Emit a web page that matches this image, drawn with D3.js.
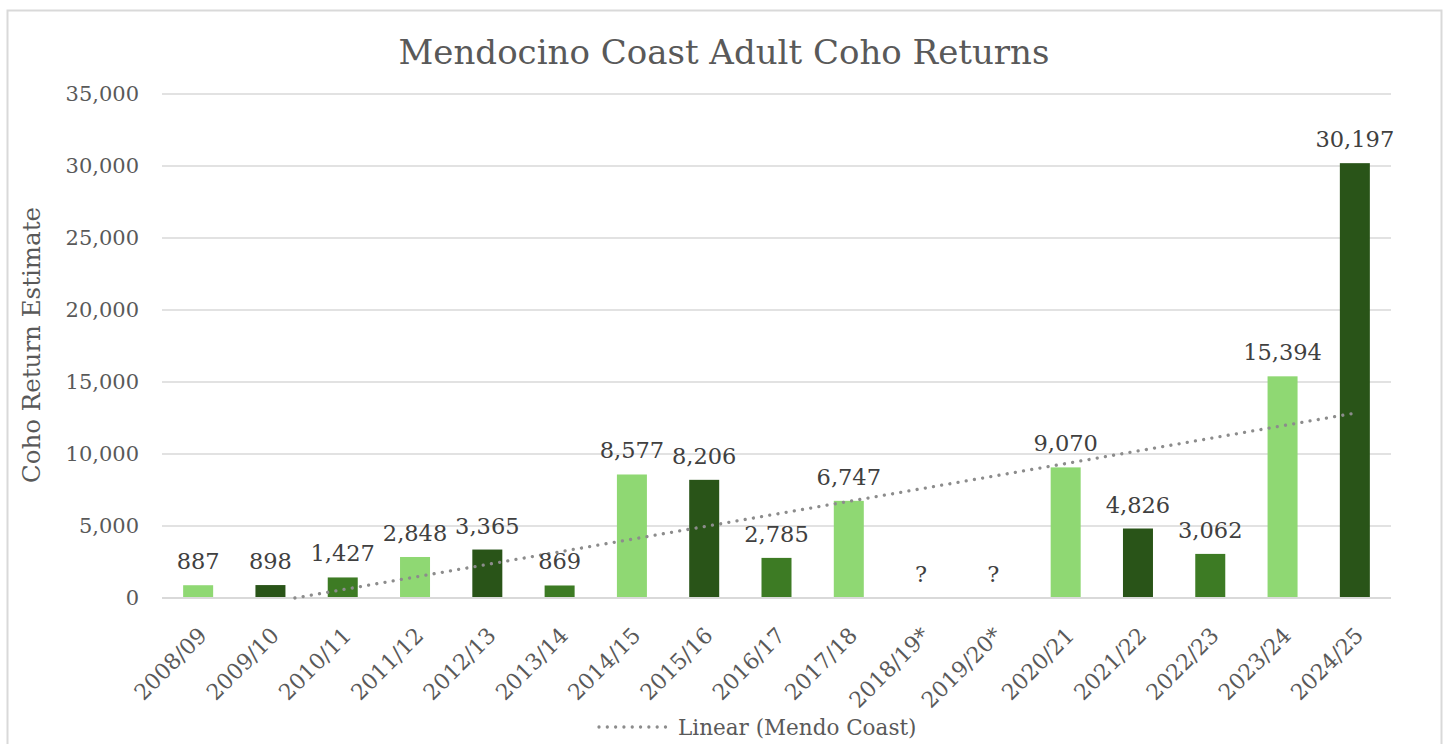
<!DOCTYPE html>
<html>
<head>
<meta charset="utf-8">
<script src="https://cdn.jsdelivr.net/npm/d3@7"></script>
<style>
  html, body { margin: 0; padding: 0; background: #fff; }
  text { font-family: "DejaVu Serif", "Liberation Serif", serif; }
</style>
</head>
<body>
<svg id="chart" width="1447" height="744"></svg>
<script>
const categories = ["2008/09","2009/10","2010/11","2011/12","2012/13","2013/14","2014/15","2015/16","2016/17","2017/18","2018/19*","2019/20*","2020/21","2021/22","2022/23","2023/24","2024/25"];
const values = [887, 898, 1427, 2848, 3365, 869, 8577, 8206, 2785, 6747, null, null, 9070, 4826, 3062, 15394, 30197];
const yTicks = [0, 5000, 10000, 15000, 20000, 25000, 30000, 35000];
const barColors = ["#8fd873", "#295418", "#3d7b24"];
const titleText = "Mendocino Coast Adult Coho Returns";
const yTitle = "Coho Return Estimate";
const legendLabel = "Linear (Mendo Coast)";

const svg = d3.select("#chart");
const margin = { left: 162, right: 1391, top: 94, bottom: 598 };

// chart border
svg.append("rect").attr("x", 7.5).attr("y", 10.5).attr("width", 1434).attr("height", 745)
  .attr("fill", "#fff").attr("stroke", "#d9d9d9").attr("stroke-width", 2);

const x = d3.scaleBand().domain(categories).range([margin.left, margin.right]).paddingInner(0.585).paddingOuter(0.2925);
const y = d3.scaleLinear().domain([0, 35000]).range([margin.bottom, margin.top]);

// gridlines
svg.append("g").selectAll("line").data(yTicks.filter(d => d > 0)).join("line")
  .attr("x1", margin.left).attr("x2", margin.right)
  .attr("y1", d => y(d)).attr("y2", d => y(d))
  .attr("stroke", "#d9d9d9").attr("stroke-width", 1.5);

// y axis labels
const yAxis = d3.axisLeft(y).tickValues(yTicks).tickFormat(d3.format(",")).tickSize(0).tickPadding(23);
const yg = svg.append("g").attr("transform", `translate(${margin.left},0)`).call(yAxis);
yg.select(".domain").remove();
yg.selectAll("text").attr("fill", "#595959").style("font-size", "21px").style("font-family", '"DejaVu Serif", serif');

// bars
svg.append("g").selectAll("rect").data(categories).join("rect")
  .attr("x", d => x(d)).attr("width", x.bandwidth())
  .attr("y", (d, i) => y(values[i] || 0))
  .attr("height", (d, i) => y(0) - y(values[i] || 0))
  .attr("fill", (d, i) => barColors[i % 3]);

// baseline
svg.append("line").attr("x1", margin.left).attr("x2", margin.right)
  .attr("y1", y(0)).attr("y2", y(0)).attr("stroke", "#d9d9d9").attr("stroke-width", 2);

// trendline: linear regression over category index (blanks counted as zero)
const pts = categories.map((c, i) => [i, values[i] || 0]);
const n = pts.length;
const mx = d3.mean(pts, p => p[0]), my = d3.mean(pts, p => p[1]);
const slope = d3.sum(pts, p => (p[0] - mx) * (p[1] - my)) / d3.sum(pts, p => (p[0] - mx) ** 2);
const intercept = my - slope * mx;
const cx = i => x(categories[i]) + x.bandwidth() / 2;
const i0 = (0 - intercept) / slope; // clipped where trend crosses zero
const xAt = t => margin.left + x.step() * (t + 0.2925) + x.bandwidth() / 2;
svg.append("line")
  .attr("x1", xAt(i0)).attr("y1", y(0))
  .attr("x2", cx(n - 1)).attr("y2", y(intercept + slope * (n - 1)))
  .attr("stroke", "#8c8c8c").attr("stroke-width", 3.3)
  .attr("stroke-linecap", "round").attr("stroke-dasharray", "0.01 8.3");

// data labels
svg.append("g").selectAll("text").data(categories).join("text")
  .attr("x", d => x(d) + x.bandwidth() / 2)
  .attr("y", (d, i) => y(values[i] || 0) - 16)
  .attr("text-anchor", "middle")
  .attr("fill", "#404040").style("font-size", "22.5px")
  .text((d, i) => values[i] == null ? "?" : d3.format(",")(values[i]));

// x labels
svg.append("g").selectAll("text").data(categories).join("text")
  .attr("transform", d => `translate(${x(d) + x.bandwidth() / 2 - 1},${y(0) + 28}) rotate(-45)`)
  .attr("text-anchor", "end")
  .attr("dy", "0.7em")
  .attr("fill", "#595959").style("font-size", "22px")
  .text(d => d);

// title
svg.append("text").attr("x", 724).attr("y", 64).attr("text-anchor", "middle")
  .attr("fill", "#595959").style("font-size", "34px").text(titleText);

// y title
svg.append("text").attr("transform", "translate(40,345) rotate(-90)").attr("text-anchor", "middle")
  .attr("fill", "#595959").style("font-size", "24.5px").text(yTitle);

// legend
const lg = svg.append("g");
lg.append("line").attr("x1", 599).attr("x2", 667).attr("y1", 727).attr("y2", 727)
  .attr("stroke", "#8c8c8c").attr("stroke-width", 3.3)
  .attr("stroke-linecap", "round").attr("stroke-dasharray", "0.01 8.3");
lg.append("text").attr("x", 678).attr("y", 735).attr("fill", "#595959")
  .style("font-size", "21.5px").text(legendLabel);
</script>
</body>
</html>
